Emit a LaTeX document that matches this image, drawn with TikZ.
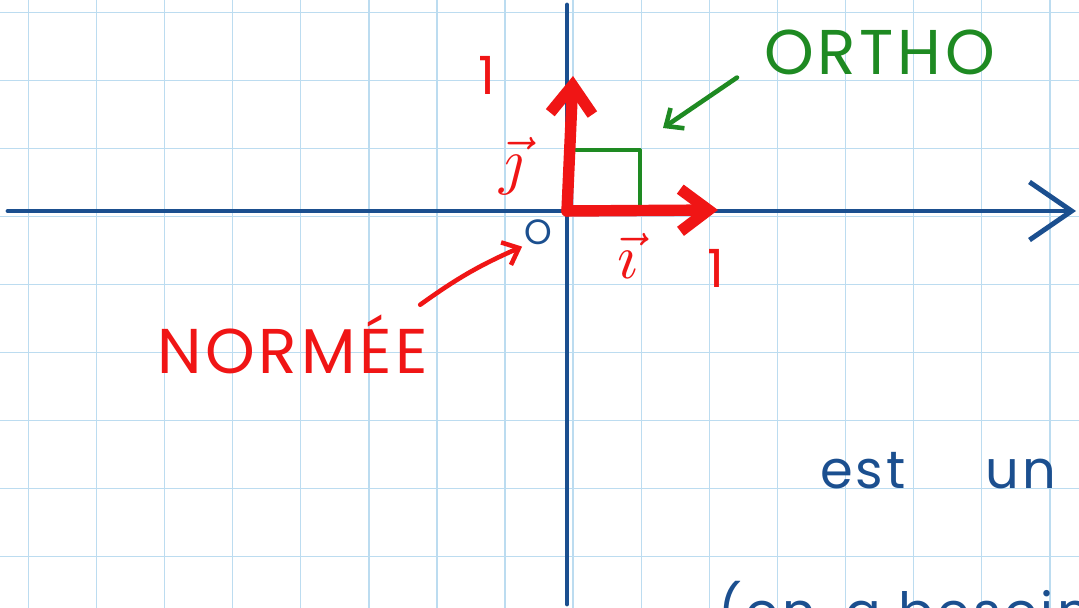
\documentclass[tikz,border=0pt]{standalone}
\usepackage{fontspec}
\usepackage{graphicx}
\newfontfamily\handfont[LetterSpace=6]{Poppins}
\usetikzlibrary{arrows.meta}

\begin{document}
\begin{tikzpicture}[x=0.02cm, y=-0.02cm, line cap=round, line join=round,
		% Styles
		grid line/.style={draw=gridcolor, line width=0.8pt},
		axis/.style={draw=axiscolor, line width=2.8pt},
		unit vector/.style={draw=veccolor, line width=6.5pt, -{Straight Barb[length=16pt, width=24pt]}},
		pointer/.style={line width=2.6pt, -{Straight Barb[length=8pt, width=14pt]}},
		hand text/.style={inner sep=1pt, font=\handfont\fontsize{36}{40}\selectfont},
		small text/.style={inner sep=1pt, font=\handfont\fontsize{30}{34}\selectfont}
		]
		
		% Colors
		\definecolor{gridcolor}{RGB}{188,220,240}
		\definecolor{axiscolor}{HTML}{1B4F8F}
		\definecolor{veccolor}{HTML}{F01515}
		\definecolor{orthocolor}{HTML}{1E8A22}
		
		\path[use as bounding box, clip] (0, 0) rectangle (1079, 608);
		\fill[white] (0, 0) rectangle (1079, 608);
		
		% The graphic
		% squared paper
		\foreach \i in {0,...,15}
			\draw[grid line] ({28.3+68.1*\i}, 0) -- ++(0, 608);
		\foreach \j in {0,...,8}
			\draw[grid line] (0, {12.7+68*\j}) -- ++(1079, 0);
		
		% Axes
		\coordinate (O) at (567, 211);
		\coordinate (x start) at (8, 211);
		\coordinate (x end) at (1076, 211);
		\coordinate (y start) at (567, 604);
		\coordinate (y end) at (567, 5);
		\draw[axis, -{Straight Barb[length=24pt, width=33pt]}] (x start) -- (x end);
		\draw[axis] (y start) -- (y end);
		\node[small text, axiscolor, font=\handfont\fontsize{20}{22}\selectfont] (origin) at (538, 232) {O};
		
		% Right angle
		\draw[orthocolor, line width=2.2pt] (576, 150) -- (640, 150) -- (640, 207);
		
		% Unit vectors
		\coordinate (j end) at (573, 76);
		\coordinate (i end) at (718, 210);
		\draw[unit vector] (O) -- (j end);
		\draw[unit vector] (O) -- (i end);
		\node[small text, veccolor] (one y) at (487, 75) {1};
		\node[small text, veccolor] (one x) at (716, 268) {1};
		\node[veccolor, inner sep=0pt] (vec j) at (512, 166) {\scalebox{3.6}{$\vec{\jmath}$}};
		\node[veccolor, inner sep=0pt] (vec i) at (628, 256) {\scalebox{3.6}{$\vec{\imath}$}};
		
		% ORTHO
		\node[hand text, orthocolor, anchor=base west] (ortho) at (762, 75) {ORTHO};
		\coordinate (ortho tip) at (663, 128);
		\draw[pointer, orthocolor] ([xshift=-0.5cm]ortho.south west) -- (ortho tip);
		
		% NORMEE
		\node[hand text, veccolor, anchor=base west] (normee) at (155, 373) {NORMÉE};
		\draw[pointer, veccolor] ([shift={(-0.2cm,0.15cm)}]normee.north east) to[bend left=6] (origin.south west);
		
		% remarks
		\node[small text, axiscolor, anchor=base west] (remark) at (818, 488) {est\hspace{1.6cm}un};
		\node[small text, axiscolor, anchor=base west] (remark2) at (716, 630) {(on\hspace{0.6cm}a besoin};
		
	\end{tikzpicture}
\end{document}
